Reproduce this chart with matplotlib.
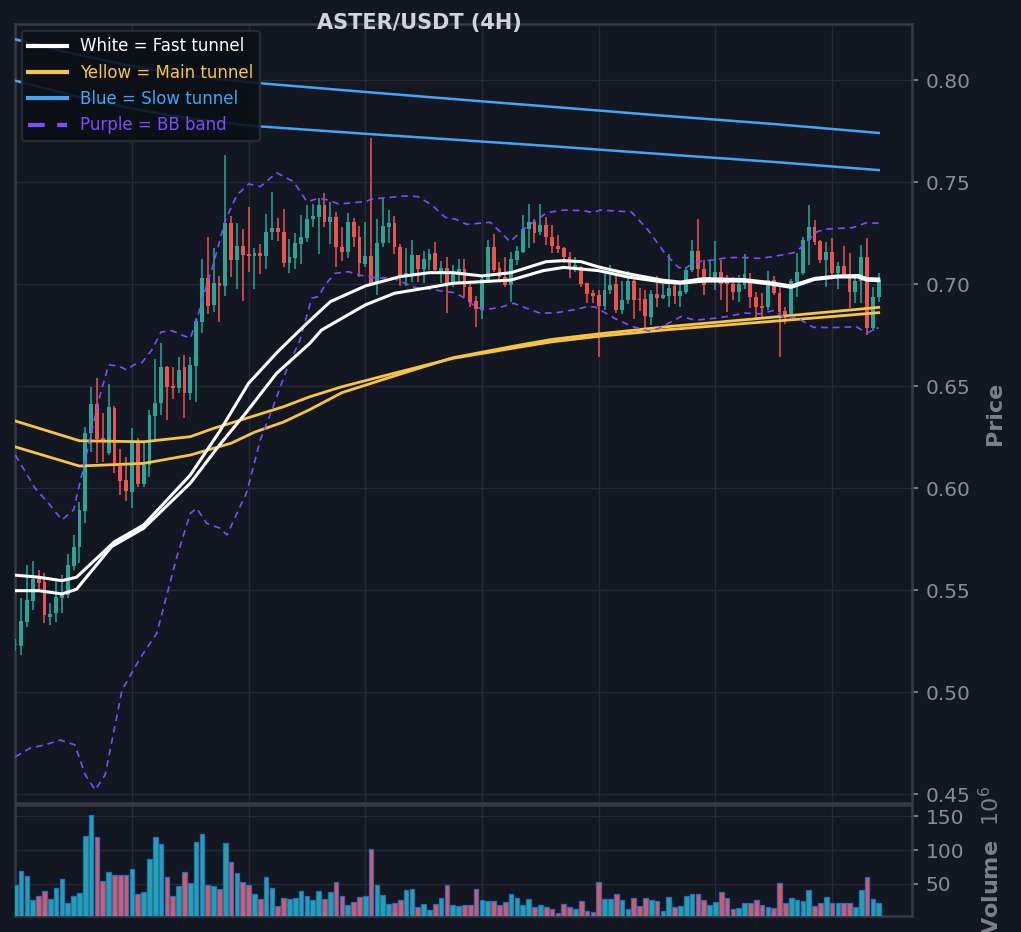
import matplotlib
matplotlib.use("Agg")
import matplotlib.pyplot as plt
import numpy as np

# ---- colours -------------------------------------------------------------
BG = "#131722"
GRID = "#262a35"
SPINE = "#363a45"
TICK = "#8a8d95"
UP = "#26a69a"
DOWN = "#ef5350"
WHITE = "#ffffff"
YELLOW = "#f7c544"
BLUE = "#42a5f5"
PURPLE = "#7c4dff"

# ---- candles (4H, bar index 0..148) --------------------------------------
opens = [
    .5230, .5229, .5346, .5449, .5554, .5542, .5368, .5387, .5464, .5477,
    .5621, .5711, .5891, .6273, .6412, .6245, .6172, .6394, .6126, .6041,
    .5984, .6229, .6020, .6114, .6356, .6417, .6596, .6500, .6493, .6596,
    .6469, .6600, .6817, .7033, .6899, .7007, .6993, .7299, .7119, .7188,
    .7149, .7141, .7154, .7141, .7255, .7276, .7257, .7103, .7131, .7199,
    .7229, .7319, .7332, .7389, .7307, .7328, .7181, .7160, .7304, .7230,
    .7100, .7139, .7005, .7201, .7283, .7299, .7181, .7038, .7051, .7142,
    .7077, .7119, .7152, .7049, .7082, .7005, .7054, .7077, .6989, .6918,
    .6874, .7021, .7181, .7078, .7034, .6997, .7119, .7160, .7270, .7307,
    .7258, .7291, .7230, .7188, .7176, .7136, .7074, .7087, .7005, .6956,
    .6946, .6892, .6971, .7000, .6876, .6922, .7016, .6930, .6930, .6840,
    .6951, .6933, .6941, .6990, .6944, .6962, .7069, .7162, .7077, .7020,
    .7020, .7060, .7011, .7000, .6962, .6995, .7005, .6936, .6894, .6887,
    .7021, .6956, .6869, .6842, .7013, .7057, .7217, .7283, .7214, .7119,
    .7160, .7057, .7090, .7051, .6964, .7018, .7136, .6784, .6936,
]
highs = [
    .5260, .5461, .5624, .5645, .5600, .5583, .5436, .5559, .5575, .5676,
    .5771, .5935, .6302, .6498, .6539, .6371, .6510, .6401, .6191, .6155,
    .6294, .6245, .6229, .6384, .6632, .6711, .6600, .6596, .6645, .6654,
    .6645, .6833, .7123, .7230, .7176, .7041, .7634, .7335, .7299, .7270,
    .7377, .7176, .7196, .7345, .7453, .7324, .7368, .7221, .7250, .7338,
    .7389, .7394, .7422, .7446, .7405, .7356, .7283, .7348, .7324, .7288,
    .7304, .7716, .7319, .7422, .7364, .7335, .7196, .7176, .7217, .7145,
    .7165, .7172, .7206, .7116, .7132, .7093, .7123, .7123, .7005, .6943,
    .7041, .7217, .7247, .7111, .7132, .7160, .7188, .7340, .7394, .7319,
    .7394, .7332, .7291, .7242, .7185, .7160, .7136, .7090, .7008, .6972,
    .6972, .7060, .7093, .7052, .7016, .7065, .7028, .6984, .6974, .6974,
    .7039, .7003, .7147, .7000, .7011, .7085, .7219, .7322, .7121, .7118,
    .7212, .7118, .7044, .7036, .7044, .7147, .7057, .6964, .6959, .7067,
    .7041, .6997, .6891, .7025, .7152, .7234, .7389, .7315, .7217, .7209,
    .7225, .7111, .7188, .7152, .7038, .7193, .7225, .6985, .7054,
]
lows = [
    .5200, .5183, .5322, .5404, .5493, .5338, .5330, .5346, .5387, .5461,
    .5600, .5632, .5828, .6180, .6123, .6131, .6163, .6074, .5967, .5938,
    .5902, .6008, .6008, .6057, .6237, .6359, .6335, .6436, .6466, .6343,
    .6433, .6425, .6763, .6853, .6866, .6817, .6944, .7038, .6977, .6920,
    .7062, .6975, .7049, .7074, .7217, .7212, .7083, .7054, .7074, .7098,
    .7209, .7279, .7147, .7283, .7196, .7083, .7116, .7127, .7185, .7038,
    .7087, .6990, .6948, .7185, .7204, .7149, .6992, .6992, .7013, .7013,
    .7008, .7070, .7062, .7008, .6858, .6985, .7013, .6940, .6891, .6792,
    .6828, .7005, .7062, .7013, .6989, .6915, .7095, .7152, .7176, .7204,
    .7242, .7193, .7155, .7155, .7106, .7029, .7062, .6989, .6907, .6907,
    .6645, .6876, .6954, .6859, .6856, .6905, .6832, .6869, .6775, .6799,
    .6889, .6930, .6889, .6902, .6889, .6954, .7060, .7016, .6946, .7011,
    .6971, .6925, .6864, .6922, .6913, .6975, .6882, .6833, .6842, .6874,
    .6948, .6645, .6806, .6838, .6940, .7046, .7095, .7193, .7103, .6989,
    .7046, .6975, .7034, .6882, .6907, .6907, .6752, .6773, .6915,
]
closes = [
    .5235, .5350, .5453, .5554, .5537, .5379, .5385, .5466, .5480, .5624,
    .5711, .5894, .6270, .6412, .6242, .6237, .6397, .6126, .6038, .5987,
    .6229, .6020, .6114, .6359, .6417, .6596, .6498, .6493, .6580, .6466,
    .6605, .6822, .7033, .6895, .7008, .6993, .7299, .7119, .7188, .7144,
    .7141, .7155, .7141, .7257, .7276, .7255, .7103, .7134, .7201, .7230,
    .7319, .7335, .7389, .7307, .7328, .7181, .7160, .7304, .7230, .7106,
    .7139, .7000, .7201, .7286, .7302, .7181, .7038, .7054, .7142, .7077,
    .7123, .7149, .7070, .7078, .6997, .7055, .7077, .6989, .6915, .6877,
    .7026, .7181, .7070, .7034, .6997, .7123, .7163, .7270, .7307, .7250,
    .7291, .7230, .7188, .7172, .7136, .7074, .7095, .7002, .6953, .6943,
    .6893, .6974, .6995, .6876, .6925, .7016, .6922, .6925, .6843, .6951,
    .6933, .6946, .6984, .6944, .6966, .7072, .7162, .7077, .6995, .7036,
    .7060, .7003, .7000, .6962, .7000, .7050, .6936, .6891, .6886, .7021,
    .6956, .6866, .6842, .7018, .7062, .7217, .7283, .7209, .7119, .7160,
    .7057, .7090, .7051, .6964, .7018, .7136, .6784, .6936, .7021,
]
# volume in units of 1e6
volumes = [
    48.5, 68.8, 61.3, 26.2, 32.7, 39.1, 27.2, 43.5, 56.9, 21.3,
    32.7, 36.1, 120.7, 151.8, 120.2, 53.9, 67.3, 63.3, 63.3, 63.3,
    71.7, 35.6, 37.6, 86.6, 119.2, 108.8, 59.9, 31.7, 46.5, 67.3,
    51.0, 111.8, 123.7, 49.0, 46.5, 42.0, 110.3, 82.1, 65.8, 52.4,
    49.0, 34.6, 28.2, 59.9, 43.5, 17.8, 28.7, 27.2, 28.7, 39.1,
    31.7, 25.7, 39.1, 27.2, 37.6, 52.4, 31.7, 19.3, 22.7, 30.2,
    31.7, 102.4, 48.0, 33.1, 19.8, 21.3, 25.7, 40.6, 42.0, 16.3,
    19.8, 10.9, 20.8, 28.7, 48.0, 18.3, 16.8, 18.3, 19.3, 42.0,
    25.7, 24.0, 24.5, 19.5, 22.7, 34.6, 28.7, 18.3, 27.2, 16.3,
    18.3, 16.3, 13.4, 7.4, 19.8, 16.3, 12.4, 24.2, 9.9, 8.9,
    52.4, 27.2, 27.2, 34.6, 26.2, 12.4, 28.7, 17.8, 28.7, 26.2,
    24.2, 9.9, 31.2, 15.3, 17.3, 32.7, 34.6, 34.6, 25.7, 19.3,
    22.7, 37.6, 28.7, 12.4, 13.9, 21.3, 21.3, 25.7, 19.3, 15.3,
    13.9, 51.0, 21.3, 28.7, 25.7, 24.2, 40.6, 17.3, 22.3, 30.2,
    22.3, 21.3, 21.3, 21.3, 16.3, 40.6, 59.9, 27.2, 21.3,
]

# ---- indicator lines at bar positions ------------------------------------
fast_a_idx = [0, 4, 8, 10.5, 17, 22, 30, 35, 40, 45, 50, 54, 60, 66, 71, 75,
              80, 85, 91, 94, 97, 100, 105, 111, 114, 118, 125, 129, 133, 137,
              141, 144.5, 146, 148]
fast_a = [.5574, .5564, .5547, .5564, .5738, .5820, .6065, .6278, .6515, .6670,
          .6809, .6915, .6992, .7038, .7057, .7057, .7041, .7057, .7111, .7116,
          .7111, .7085, .7052, .7020, .7011, .7028, .7023, .7010, .6992, .7029,
          .7041, .7043, .7028, .7026]
fast_b_idx = [0, 4, 8, 10.5, 16.5, 22, 30, 35, 39.7, 44.8, 50.5, 52.5, 60, 65,
              72.5, 75, 80, 85, 90.5, 94, 100, 105, 111, 114, 118, 125, 129,
              133, 137, 141, 144.5, 146, 148]
fast_b = [.5498, .5498, .5482, .5505, .5714, .5804, .6025, .6212, .6376, .6564,
          .6711, .6776, .6899, .6956, .6992, .7005, .7013, .7021, .7067, .7083,
          .7067, .7036, .7011, .7005, .7016, .7016, .7003, .6985, .7024, .7036,
          .7036, .7020, .7018]

main_a_idx = [0, 11, 22, 30, 34, 37, 46, 50.5, 56, 66, 75, 86, 92, 100, 112,
              125, 137, 148]
main_a = [.6330, .6233, .6228, .6253, .6294, .6320, .6400, .6449, .6498, .6572,
          .6637, .6690, .6718, .6745, .6778, .6808, .6835, .6861]
main_b_idx = [0, 11, 22, 30, 37, 41, 46, 50.5, 56, 66, 75, 86, 92, 100, 112,
              125, 137, 148]
main_b = [.6203, .6109, .6122, .6163, .6221, .6275, .6325, .6386, .6469, .6560,
          .6640, .6700, .6730, .6757, .6793, .6826, .6858, .6887]

slow_idx = [0, 10, 20, 30, 41, 60, 80, 93, 110, 130, 148]
slow_a = [.8201, .8130, .8070, .8023, .7988, .7943, .7897, .7868, .7829, .7786, .7742]
slow_b = [.7998, .7925, .7862, .7812, .7776, .7738, .7700, .7675, .7640, .7600, .7560]

bb_up_idx = [0, 3.4, 5.7, 8, 10, 12, 14.3, 16, 17.7, 19.1, 20.3, 21.7, 23.4, 25,
             26.8, 28.5, 30, 31.1, 32.2, 34, 36, 38, 40, 42, 44.8, 47.7, 50, 52,
             53.7, 55.4, 60, 61.1, 66.8, 69, 71.4, 73.7, 75.4, 77.4, 81.4, 83.1,
             84.8, 87.7, 91.1, 94, 97.4, 99.1, 100.2, 105.6, 108.5, 111.4,
             113.7, 114.8, 116.5, 120, 122.2, 125, 127.6, 129.9, 133.4, 134.5,
             137.4, 139.1, 143.6, 145.9, 148]
bb_up = [.6163, .6000, .5926, .5845, .5894, .6139, .6433, .6605, .6600, .6580,
         .6605, .6616, .6678, .6766, .6773, .6752, .6735, .6825, .6940, .7103,
         .7315, .7438, .7492, .7479, .7547, .7503, .7405, .7422, .7413, .7394,
         .7405, .7418, .7433, .7430, .7389, .7328, .7320, .7294, .7304, .7258,
         .7209, .7283, .7351, .7364, .7361, .7351, .7364, .7355, .7265, .7150,
         .7082, .7077, .7109, .7121, .7131, .7131, .7127, .7136, .7155, .7176,
         .7258, .7271, .7278, .7302, .7299]
bb_lo_idx = [0, 2.6, 5.1, 7.7, 10.2, 12, 13.7, 15.4, 16.6, 18.3, 21.4, 24.25,
             27.7, 30, 31.1, 32.8, 35.1, 36.3, 39.7, 42, 44.2, 46.5, 48.8, 50.8,
             52, 53.1, 54.8, 57.1, 58.8, 60.5, 62.2, 64.5, 66.8, 68.5, 71.4,
             73.7, 75.4, 76.8, 78.5, 80.2, 83.1, 85.4, 87.7, 90, 92.8, 96.2, 98,
             99.4, 102.8, 105.7, 108.5, 110.2, 112, 114.2, 116.5, 119.4, 122.2,
             125, 127.6, 129.9, 131.6, 133.9, 136.8, 140.2, 144.2, 145.9, 147.1,
             148]
bb_lo = [.4683, .4727, .4742, .4766, .4742, .4595, .4521, .4595, .4766, .5011,
         .5167, .5289, .5665, .5877, .5902, .5828, .5804, .5771, .5983, .6237,
         .6400, .6580, .6727, .6932, .6940, .6997, .7054, .7062, .7046, .7038,
         .7030, .7034, .7005, .6985, .6975, .6964, .6959, .6936, .6899, .6874,
         .6887, .6907, .6882, .6858, .6861, .6877, .6891, .6889, .6832, .6794,
         .6771, .6783, .6810, .6843, .6824, .6832, .6843, .6859, .6855, .6871,
         .6842, .6838, .6789, .6788, .6792, .6760, .6776, .6788]

price_ticks = [0.45, 0.50, 0.55, 0.60, 0.65, 0.70, 0.75, 0.80]
volume_ticks = [50, 100, 150]


def style_axis(a):
    a.set_facecolor(BG)
    for s in a.spines.values():
        s.set_color(SPINE)
        s.set_linewidth(1.8)
    a.grid(True, color=GRID, lw=1.0)
    a.set_axisbelow(True)
    a.yaxis.tick_right()
    a.yaxis.set_label_position("right")
    a.tick_params(axis="y", colors=TICK, labelsize=14.5, length=4, width=1.2, pad=6)
    a.tick_params(axis="x", length=0, labelbottom=False)


def main() -> None:
    o = np.array(opens)
    h = np.array(highs)
    lo = np.array(lows)
    c = np.array(closes)
    v = np.array(volumes)
    x = np.arange(len(o))
    up = c >= o
    cols = np.where(up, UP, DOWN)

    fig = plt.figure(figsize=(10.21, 9.32), dpi=100, facecolor=BG)
    ax = fig.add_axes([0.01469, 0.1384, 0.8785, 0.8358])
    axv = fig.add_axes([0.01469, 0.01717, 0.8785, 0.1191], sharex=ax)
    style_axis(ax)
    style_axis(axv)

    # candles
    ax.vlines(x, lo, h, colors=cols, lw=1.1, zorder=3)
    body = np.maximum(np.abs(c - o), 0.0004)
    ax.bar(x, body, bottom=np.minimum(o, c), width=0.66, color=cols, lw=0, zorder=3)

    # tunnels + bands
    l_fast, = ax.plot(fast_a_idx, fast_a, color=WHITE, lw=2.2, zorder=5)
    ax.plot(fast_b_idx, fast_b, color=WHITE, lw=2.2, zorder=5)
    l_main, = ax.plot(main_a_idx, main_a, color=YELLOW, lw=2.0, zorder=4)
    ax.plot(main_b_idx, main_b, color=YELLOW, lw=2.0, zorder=4)
    l_slow, = ax.plot(slow_idx, slow_a, color=BLUE, lw=1.8, zorder=4)
    ax.plot(slow_idx, slow_b, color=BLUE, lw=1.8, zorder=4)
    l_bb, = ax.plot(bb_up_idx, bb_up, color=PURPLE, lw=1.2, ls=(0, (4, 3)), zorder=4)
    ax.plot(bb_lo_idx, bb_lo, color=PURPLE, lw=1.2, ls=(0, (4, 3)), zorder=4)

    ax.set_xlim(-0.05, 153.7)
    ax.set_ylim(0.4457, 0.8276)
    ax.set_yticks(price_ticks)
    ax.set_yticklabels([f"{t:.2f}" for t in price_ticks])
    ax.set_xticks(np.arange(0, 150, 20))
    ax.set_ylabel("Price", color="#7d8089", fontsize=16, fontweight="bold", labelpad=10)

    leg = ax.legend(
        [l_fast, l_main, l_slow, l_bb],
        ["White = Fast tunnel", "Yellow = Main tunnel", "Blue = Slow tunnel", "Purple = BB band"],
        loc="upper left", fontsize=12, frameon=True, borderaxespad=0.4,
        handlelength=2.3, labelcolor=[WHITE, YELLOW, BLUE, PURPLE],
    )
    for hl in leg.get_lines():
        hl.set_linewidth(3.0)
    fr = leg.get_frame()
    fr.set_facecolor("#0b0e15")
    fr.set_alpha(0.88)
    fr.set_edgecolor("#2a2e39")
    fr.set_linewidth(1.6)

    # volume
    axv.bar(x, v, width=0.8, color=cols, edgecolor="#1f6fd1", lw=0.9, zorder=3)
    axv.set_ylim(2.5, 167)
    axv.set_yticks(volume_ticks)
    axv.set_ylabel("Volume  $10^{6}$", color="#7d8089", fontsize=16,
                   fontweight="bold", labelpad=10)

    fig.text(0.411, 0.975, "ASTER/USDT (4H)", ha="center", va="center",
             fontsize=15, fontweight="bold", color="#d1d4dc")

    fig.savefig("out.png", dpi=100, facecolor=BG)
    plt.close(fig)


if __name__ == "__main__":
    main()
